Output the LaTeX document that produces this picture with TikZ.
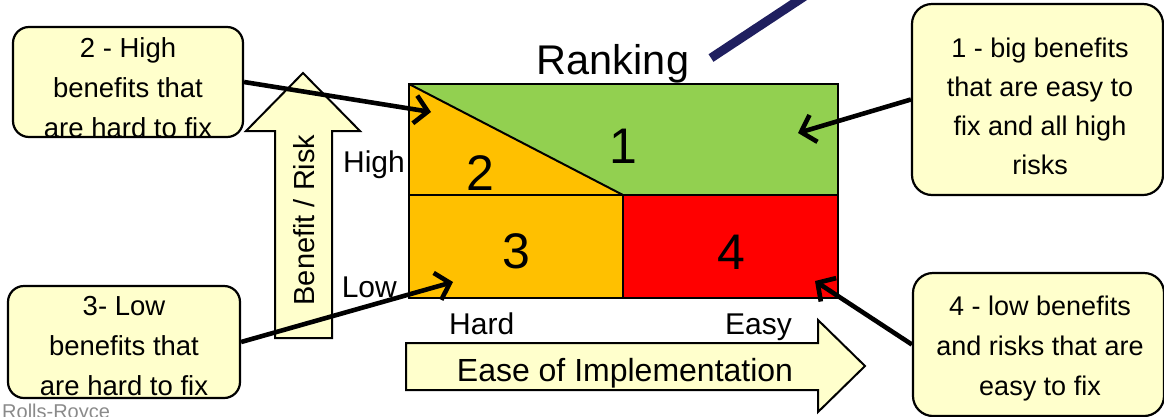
\documentclass[tikz,border=0pt]{standalone}
\usepackage{fontspec}
\setmainfont{Liberation Sans}
\usetikzlibrary{arrows.meta}
\definecolor{boxfill}{HTML}{FFFFCC}
\definecolor{qgreen}{HTML}{92D050}
\definecolor{qorange}{HTML}{FFC000}
\definecolor{qred}{HTML}{FF0000}
\definecolor{navyline}{HTML}{1F1F5F}
\definecolor{rrgray}{HTML}{8A8A8A}
\tikzset{
  callout/.style={draw=black, line width=2.2pt, fill=boxfill, rounded corners=16pt, inner sep=0pt},
  callouttext/.style={align=center, inner sep=0pt, font=\fontsize{27.5}{40}\selectfont},
  conn/.style={draw=black, line width=4.6pt, -{Straight Barb[length=13pt,width=28pt]}},
  bigarrow/.style={draw=black, line width=2pt, fill=boxfill, line join=miter},
  cell/.style={draw=black, line width=2pt},
  axislabel/.style={inner sep=0pt, font=\fontsize{30}{34}\selectfont},
  numlabel/.style={inner sep=0pt, font=\fontsize{50}{56}\selectfont},
}
\begin{document}
\begin{tikzpicture}[x=1pt, y=-1pt]
\useasboundingbox (0,0) rectangle (1164,416);
% matrix cells
\fill[qgreen] (409,84) rectangle (838,195);
\fill[qorange] (409,84) -- (623,195) -- (409,195) -- cycle;
\fill[qorange] (409,195) rectangle (623,298);
\fill[qred] (623,195) rectangle (838,298);
\draw[cell] (409,84) rectangle (838,298);
\draw[cell] (409,195) -- (838,195);
\draw[cell] (623,195) -- (623,298);
\draw[cell] (409,84) -- (623,195);
% numbers
\node[numlabel, anchor=base] (n1) at (623,163) {1};
\node[numlabel, anchor=base] (n2) at (480,190) {2};
\node[numlabel, anchor=base] (n3) at (516,268) {3};
\node[numlabel, anchor=base] (n4) at (731,269) {4};
% title
\node[inner sep=0pt, anchor=base, font=\fontsize{41.5}{46}\selectfont] (title) at (613,74) {Ranking};
\coordinate (navyA) at (711,58);
\coordinate (navyB) at (808,-6);
\draw[navyline, line width=9pt] (navyA) -- (navyB);
% axis labels
\node[axislabel, anchor=base east] (high) at (405,172) {High};
\node[axislabel, anchor=base east] (low) at (397,297) {Low};
\node[axislabel, anchor=base west] (hard) at (449,334) {Hard};
\node[axislabel, anchor=base east] (easy) at (792,334) {Easy};
% up arrow
\draw[bigarrow] (275,338) -- (275,131) -- (246,131) -- (303,73) -- (360,131) -- (332,131) -- (332,338) -- cycle;
\node[inner sep=0pt, rotate=90, font=\fontsize{29}{34}\selectfont] (benefit) at (304,220) {Benefit / Risk};
% right arrow
\draw[bigarrow] (406,343) -- (818,343) -- (818,320) -- (865,366) -- (818,412) -- (818,390) -- (406,390) -- cycle;
\node[inner sep=0pt, anchor=base, font=\fontsize{32}{36}\selectfont] (ease) at (625,381) {Ease of Implementation};
% callout boxes
\node[callout, minimum width=230pt, minimum height=110pt] (b2) at (128,82) {};
\node[callouttext] (t2) at (128,88) {2 - High\\benefits that\\are hard to fix};
\node[callout, minimum width=232pt, minimum height=112pt] (b3) at (124,342) {};
\node[callouttext] (t3) at (124,346) {3- Low\\benefits that\\are hard to fix};
\node[callout, rounded corners=20pt, minimum width=251pt, minimum height=191pt] (b1) at (1037.5,99.5) {};
\node[callouttext, font=\fontsize{27}{39}\selectfont] (t1) at (1040,106) {1 - big benefits\\that are easy to\\fix and all high\\risks};
\node[callout, rounded corners=20pt, minimum width=251pt, minimum height=143pt] (b4) at (1038.5,344.5) {};
\node[callouttext, font=\fontsize{27}{40}\selectfont] (t4) at (1040,349) {4 - low benefits\\and risks that are\\easy to fix};
% arrow targets
\coordinate (p2) at (431,112);
\coordinate (p1) at (798,133);
\coordinate (p3) at (453,282);
\coordinate (p4) at (815,281);
\draw[conn] (b2.east) -- (p2);
\draw[conn] (b1.west) -- (p1);
\draw[conn] (b3.east) -- (p3);
\draw[conn] (b4.west) -- (p4);
% footer
\node[inner sep=0pt, anchor=base west, text=rrgray, font=\fontsize{20}{24}\selectfont] (rr) at (2,418) {Rolls-Royce};
\end{tikzpicture}
\end{document}
